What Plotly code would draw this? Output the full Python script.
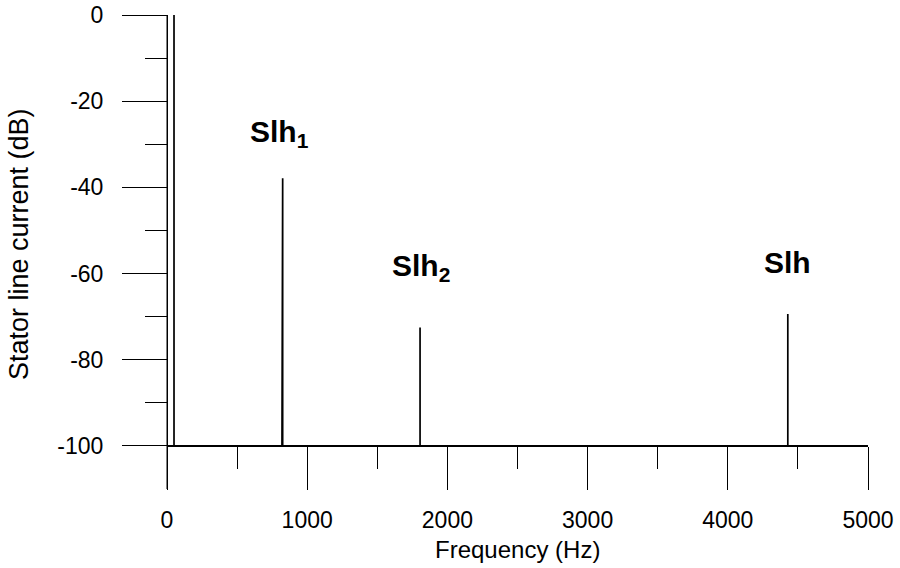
import plotly.graph_objects as go

# Spectrum peaks (frequency in Hz, level in dB); baseline floor is -100 dB
peak_freqs = [50, 820, 822, 825, 1805, 4428]
peak_levels = [0, -96, -87, -37.9, -72.5, -69.4]
floor_level = -100
freq_span = [0, 5000]

# Annotations for slot harmonics
label_texts = ["<b>Slh<sub>1</sub></b>", "<b>Slh<sub>2</sub></b>", "<b>Slh</b>"]
label_freqs = [800, 1815, 4425]
label_levels = [-27.4, -58.7, -57.5]

y_major = [0, -20, -40, -60, -80, -100]
y_minor = [-10, -30, -50, -70, -90]

# Build line spectrum: baseline with vertical spikes
xs = [freq_span[0]]
ys = [floor_level]
for f, lv in zip(peak_freqs, peak_levels):
    xs += [f, f, f]
    ys += [floor_level, lv, floor_level]
xs.append(freq_span[1])
ys.append(floor_level)

fig = go.Figure()
fig.add_trace(go.Scatter(x=xs, y=ys, mode="lines",
                         line=dict(color="black", width=1.7),
                         showlegend=False, hoverinfo="skip"))

FONT = "Liberation Sans, Arial, sans-serif"

L, R, T, B = 167, 32, 15, 79
W, H = 900, 568
plot_h = H - T - B

for txt, fx, ly in zip(label_texts, label_freqs, label_levels):
    fig.add_annotation(x=fx, y=ly, text=txt, showarrow=False,
                       font=dict(family=FONT, size=30, color="black"),
                       xanchor="center", yanchor="middle")

fig.add_annotation(xref="paper", yref="paper", x=0.5, y=0,
                   yshift=-60, text="Frequency (Hz)", showarrow=False,
                   font=dict(family=FONT, size=24, color="black"),
                   xanchor="center", yanchor="middle")
fig.add_annotation(xref="paper", yref="paper", x=0, y=0.5,
                   xshift=-148, yshift=8, text="Stator line current (dB)",
                   showarrow=False, textangle=-90,
                   font=dict(family=FONT, size=27, color="black"),
                   xanchor="center", yanchor="middle")

# y-axis line (full height of the axis)
fig.add_shape(type="line", xref="x domain", yref="y domain",
              x0=0, x1=0, y0=0, y1=1, line=dict(color="black", width=1))

fig.update_layout(
    width=W, height=H,
    margin=dict(l=L, r=R, t=T, b=B),
    paper_bgcolor="white", plot_bgcolor="white",
    font=dict(family=FONT, size=23, color="black"),
    xaxis=dict(range=freq_span, anchor="free", position=43 / plot_h,
               automargin=False,
               showline=True, linecolor="black", linewidth=1,
               ticks="outside", ticklen=43, tickwidth=1, tickcolor="black",
               tick0=0, dtick=1000, showgrid=False, zeroline=False,
               ticklabelstandoff=10,
               minor=dict(ticks="outside", ticklen=22, dtick=500, tick0=0,
                          tickcolor="black", tickwidth=1, showgrid=False)),
    yaxis=dict(range=[-110, 0], anchor="free", position=0, automargin=False,
               showline=True, linecolor="black", linewidth=1,
               ticks="outside", ticklen=45, tickwidth=1, tickcolor="black",
               tickvals=y_major, ticktext=[str(v) for v in y_major],
               showgrid=False, zeroline=False, ticklabelstandoff=14,
               minor=dict(ticks="outside", ticklen=22, tickvals=y_minor,
                          tickcolor="black", tickwidth=1, showgrid=False)),
)

fig.write_html("out.html", config={"displayModeBar": False},
               post_script="document.body.style.margin='0';")
